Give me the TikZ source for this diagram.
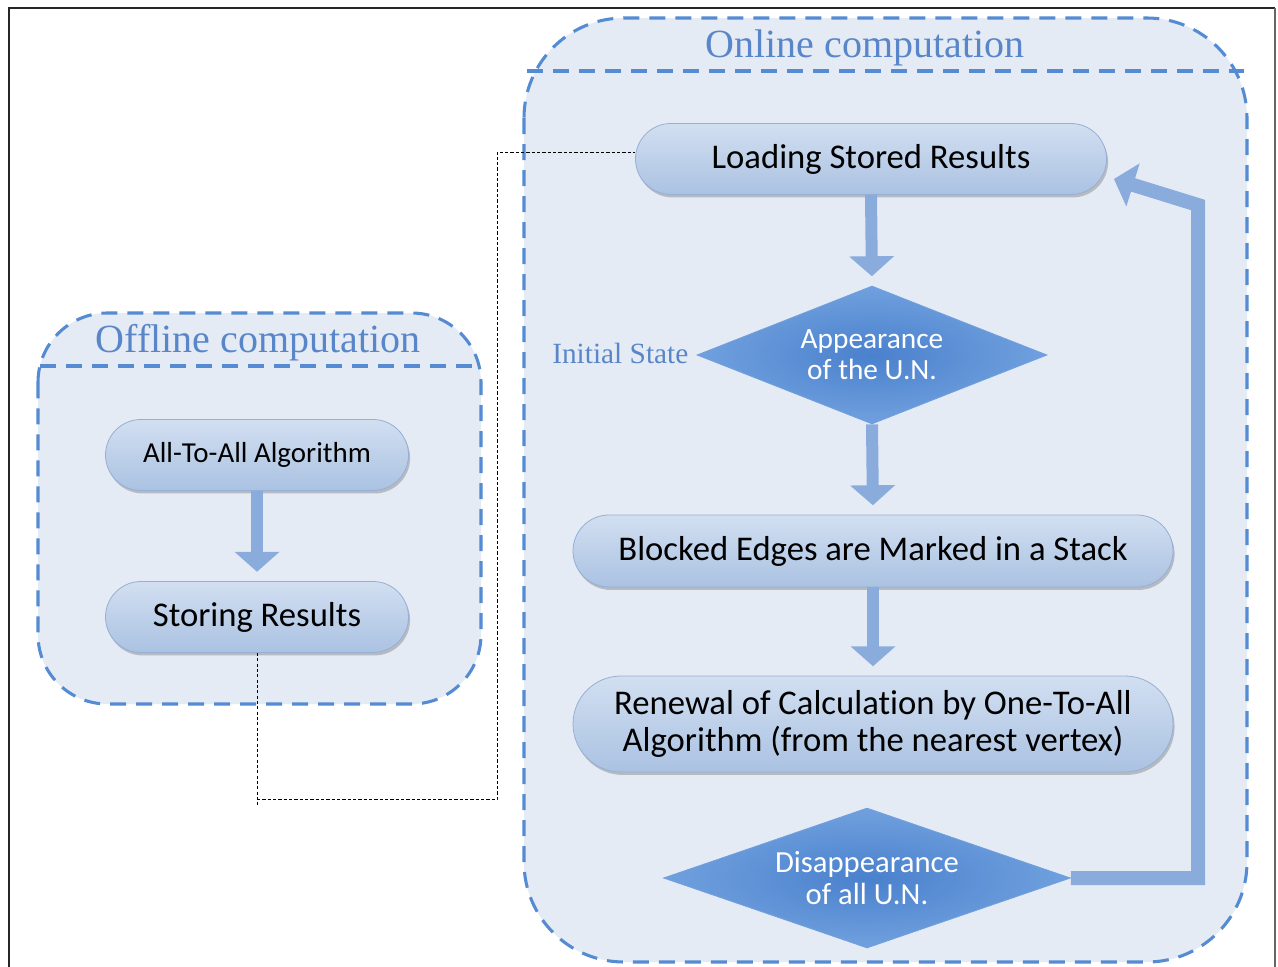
\documentclass[tikz,border=0pt]{standalone}
\usepackage{fontspec}
\setmainfont{Liberation Serif}
\newfontfamily\carlito[Ligatures=NoCommon]{Carlito}
\usetikzlibrary{shapes.geometric,shapes.misc,shadows,arrows.meta,calc}
\definecolor{panelfill}{RGB}{229,235,245}
\definecolor{panelline}{RGB}{84,139,210}
\definecolor{titleblue}{RGB}{88,134,200}
\definecolor{pilltop}{RGB}{210,223,241}
\definecolor{pillbot}{RGB}{170,194,226}
\definecolor{pilledge}{RGB}{150,175,212}
\definecolor{diamondin}{RGB}{74,129,205}
\definecolor{diamondout}{RGB}{112,160,222}
\definecolor{arrowfill}{RGB}{138,172,221}
\def\pxu{0.75pt}
\begin{document}
\begin{tikzpicture}[x=0.75pt,y=-0.75pt,
  panel/.style={fill=panelfill, draw=panelline, line width=2.3pt, dash pattern=on 12pt off 7.5pt},
  sepline/.style={draw=panelline, line width=2.3pt, dash pattern=on 12pt off 7.5pt},
  paneltitle/.style={text=titleblue, font=\fontsize{30}{34}\selectfont, inner sep=0pt},
  pill/.style={rounded rectangle, top color=pilltop, bottom color=pillbot, draw=pilledge,
    line width=0.6pt, inner sep=0pt, align=center,
    drop shadow={shadow xshift=1.2pt, shadow yshift=-2.2pt, opacity=0.3, fill=black!70},
    font=\carlito\fontsize{26}{27.75}\selectfont},
  decision/.style={diamond, inner sep=0pt, inner color=diamondin, outer color=diamondout,
    draw=diamondout, line width=0.6pt, text=white, align=center,
    font=\carlito\fontsize{22}{23.25}\selectfont},
  blockarr/.style={draw=arrowfill, line width=9pt, line join=miter,
    -{Triangle[width=33pt,length=15pt]}, shorten >=7pt},
  conn/.style={draw=black, line width=0.7pt, dash pattern=on 2.4pt off 1.6pt},
]
\useasboundingbox (0,0) rectangle (1278,967);
\fill[white] (0,0) rectangle (1278,967);

% outer frame
\draw[black!85, line width=2.2pt] (9,967) -- (9,8) -- (1275,8);
\draw[black!60, line width=1.2pt] (1275,8) -- (1275,967);

% panels
\draw[panel, rounded corners=52pt] (38,313) rectangle (481,704);
\draw[sepline] (40,366) -- (480,366);
\draw[panel, rounded corners=75pt] (524,18) rectangle (1247,962);
\draw[sepline] (527,71) -- (1244,71);

\node[paneltitle] (offtitle) at (258,343) {Offline computation};
\node[paneltitle] (ontitle) at (865,48) {Online computation};

% offline steps
\node[pill, minimum width=303*\pxu, minimum height=71*\pxu,
      font=\carlito\fontsize{21.7}{24}\selectfont] (alg) at (257,455) {All-To-All Algorithm};
\node[pill, minimum width=303*\pxu, minimum height=71*\pxu] (store) at (257,617) {Storing Results};

% online steps
\node[pill, minimum width=471*\pxu, minimum height=71*\pxu] (load) at (871,159) {Loading Stored Results};
\node[decision, aspect=2.54, minimum width=350*\pxu, minimum height=138*\pxu] (app) at (872,355) {Appearance\\of the U.N.};
\node[pill, minimum width=600*\pxu, minimum height=72*\pxu] (block) at (873,551) {Blocked Edges are Marked in a Stack};
\node[pill, minimum width=600*\pxu, minimum height=96*\pxu] (renew) at (873,724)
  {Renewal of Calculation by One-To-All\\Algorithm (from the nearest vertex)};
\node[decision, aspect=2.9, minimum width=407*\pxu, minimum height=140*\pxu,
      font=\carlito\fontsize{23}{24}\selectfont] (dis) at (867,878) {Disappearance\\of all U.N.};

\node[text=titleblue, font=\fontsize{22}{24}\selectfont, anchor=east, inner sep=0pt]
  (init) at ($(app.west)+(-8,-2)$) {Initial State};

% flow arrows
\draw[blockarr] (alg.south) -- (store.north);
\draw[blockarr] (load.south) -- (app.north);
\draw[blockarr] (app.south) -- (block.north);
\draw[blockarr] (block.south) -- (renew.north);

% loop back
\coordinate (fbA) at (1198,878);
\coordinate (fbB) at (1198,205);
\draw[blockarr, line width=10.5pt, shorten >=0pt] (dis.east) -- (fbA) -- (fbB) -- ($(load.east)+(7,20)$);

% link between stored and loaded results
\coordinate (jog) at (497,152);
\draw[conn] (store.south) -- ($(store.south)+(0,153)$);
\draw[conn] ($(store.south)+(0,147)$) -| (jog) -- (load.west |- jog);
\end{tikzpicture}
\end{document}
